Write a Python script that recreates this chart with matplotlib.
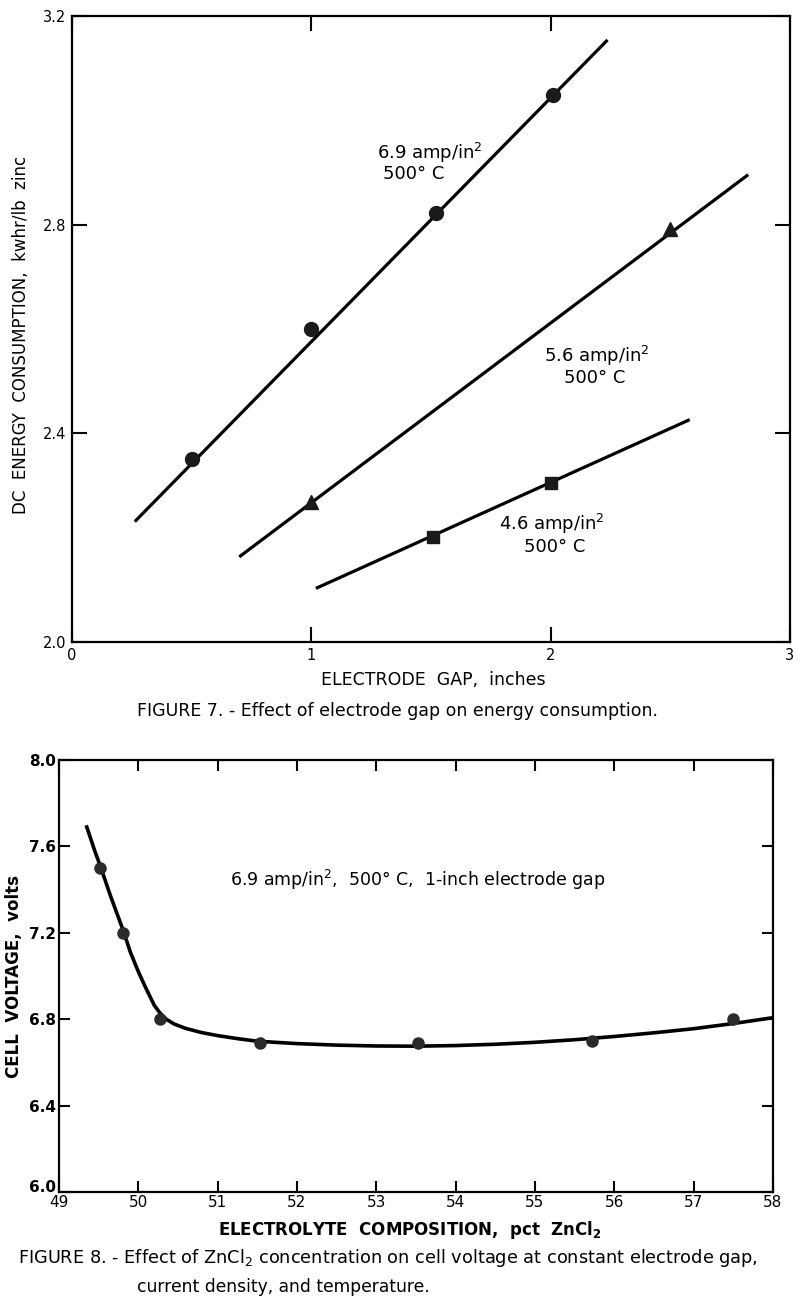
import numpy as np
import matplotlib
matplotlib.use('Agg')
from matplotlib import pyplot as plt

plt.rcParams['font.family'] = ['DejaVu Sans']
plt.rcParams['mathtext.default'] = 'regular'

# FIGURE 7: electrode gap (in) vs DC energy consumption (kwhr/lb zinc)
gap_69 = [0.5, 1.0, 1.52, 2.01]
kwh_69 = [2.35, 2.60, 2.823, 3.048]
line_69_x = [0.267, 2.233]
line_69_y = [2.233, 3.152]

gap_56 = [1.0, 2.5]
kwh_56 = [2.269, 2.792]
line_56_x = [0.704, 2.82]
line_56_y = [2.165, 2.894]

gap_46 = [1.51, 2.0]
kwh_46 = [2.202, 2.304]
line_46_x = [1.025, 2.575]
line_46_y = [2.104, 2.425]

# FIGURE 8: ZnCl2 pct vs cell voltage
comp = [49.52, 49.81, 50.27, 51.53, 53.53, 55.72, 57.5]
volts = [7.50, 7.20, 6.80, 6.69, 6.69, 6.70, 6.80]
curve_x = [49.35, 49.45, 49.52, 49.65, 49.81, 49.9, 50.0, 50.1, 50.2, 50.27, 50.35,
           50.45, 50.6, 50.8, 51.0, 51.25, 51.5, 52.0, 52.5, 53.0, 53.5, 54.0,
           54.5, 55.0, 55.5, 56.0, 56.5, 57.0, 57.5, 58.0]
curve_y = [7.69, 7.58, 7.51, 7.37, 7.21, 7.11, 7.02, 6.94, 6.865, 6.83, 6.80,
           6.778, 6.757, 6.738, 6.724, 6.71, 6.698, 6.687, 6.68, 6.676, 6.675, 6.678,
           6.684, 6.693, 6.705, 6.72, 6.737, 6.756, 6.78, 6.807]

W, H = 800, 1306
fig = plt.figure(figsize=(W / 100, H / 100), dpi=100)

def px_axes(l, t, r, b):
    return fig.add_axes([l / W, 1 - b / H, (r - l) / W, (b - t) / H])

def px_text(x, y, s, **kw):
    kw.setdefault('ha', 'center')
    kw.setdefault('va', 'center')
    fig.text(x / W, 1 - y / H, s, **kw)

# ---- figure 7 ----
ax1 = px_axes(72, 16, 790, 642)
lw = 2.3
ax1.plot(line_69_x, line_69_y, color='black', lw=lw)
ax1.plot(gap_69, kwh_69, 'o', color='#1a1a1a', ms=10)
ax1.plot(line_56_x, line_56_y, color='black', lw=lw)
ax1.plot(gap_56, kwh_56, '^', color='#1a1a1a', ms=10)
ax1.plot(line_46_x, line_46_y, color='black', lw=lw)
ax1.plot(gap_46, kwh_46, 's', color='#1a1a1a', ms=9)
ax1.set_xlim(0, 3)
ax1.set_ylim(2.0, 3.2)
ax1.set_xticks([0, 1, 2, 3])
ax1.set_xticklabels(['0', '1', '2', '3'])
ax1.set_yticks([2.0, 2.4, 2.8, 3.2])
ax1.set_yticklabels(['2.0', '2.4', '2.8', '3.2'])
ax1.tick_params(direction='in', top=True, right=True, length=11, width=1.5,
                labelsize=10.5, pad=4, colors='black')
for s in ax1.spines.values():
    s.set_linewidth(1.6)
ax1.set_xlabel('ELECTRODE  GAP,  inches', fontsize=12.5)
ax1.xaxis.set_label_coords(0.503, -0.046)
ax1.set_ylabel('DC  ENERGY  CONSUMPTION,  kwhr/lb  zinc', fontsize=12)
ax1.yaxis.set_label_coords(-0.058, 0.49)

px_text(430, 153, '6.9 amp/in$^2$', fontsize=13)
px_text(414, 174, '500° C', fontsize=13)
px_text(597, 356, '5.6 amp/in$^2$', fontsize=13)
px_text(595, 378, '500° C', fontsize=13)
px_text(552, 524, '4.6 amp/in$^2$', fontsize=13)
px_text(555, 547, '500° C', fontsize=13)

px_text(137, 711, 'FIGURE 7. - Effect of electrode gap on energy consumption.',
        fontsize=12.5, ha='left')

# ---- figure 8 ----
ax2 = px_axes(59, 760, 773, 1192)
ax2.plot(curve_x, curve_y, color='black', lw=2.6)
ax2.plot(comp, volts, 'o', color='#2a2a2a', ms=8)
ax2.set_xlim(49, 58)
ax2.set_ylim(6.0, 8.0)
ax2.set_xticks(np.arange(49, 59))
ax2.set_yticks([6.0, 6.4, 6.8, 7.2, 7.6, 8.0])
ax2.set_yticklabels(['6.0', '6.4', '6.8', '7.2', '7.6', '8.0'])
ax2.tick_params(direction='in', top=True, right=True, length=8, width=1.5,
                labelsize=11, pad=2)
for lab in ax2.get_yticklabels():
    lab.set_fontweight('bold')
ax2.get_yticklabels()[0].set_va('baseline')
for s in ax2.spines.values():
    s.set_linewidth(1.6)
ax2.set_xlabel('ELECTROLYTE  COMPOSITION,  pct  ZnCl$_2$', fontsize=12,
               fontweight='bold')
ax2.xaxis.set_label_coords(0.4916, -0.0625)
ax2.set_ylabel('CELL  VOLTAGE,  volts', fontsize=12, fontweight='bold')
ax2.yaxis.set_label_coords(-0.05, 0.5)

px_text(418, 880, '6.9 amp/in$^2$,  500° C,  1-inch electrode gap', fontsize=12.5)

px_text(18, 1258,
        'FIGURE 8. - Effect of ZnCl$_2$ concentration on cell voltage at constant electrode gap,',
        fontsize=12.8, ha='left')
px_text(137, 1287, 'current density, and temperature.', fontsize=12.3, ha='left')

fig.savefig('out.png', dpi=100)
